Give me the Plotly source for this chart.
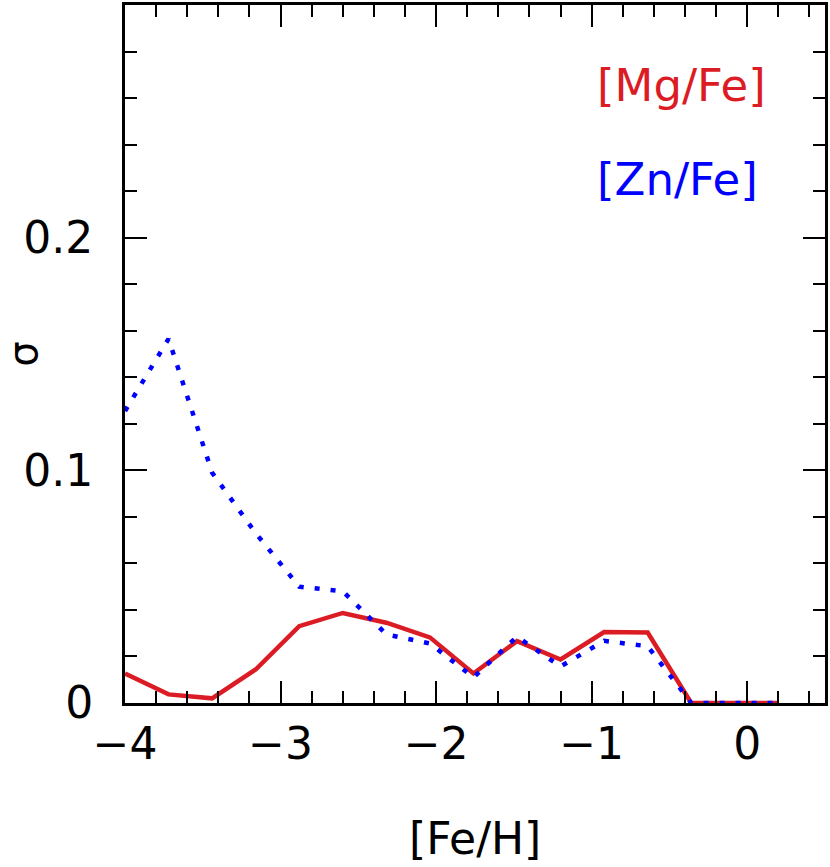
import plotly.graph_objects as go

# [Fe/H] bin centres
feh = [-4.00, -3.72, -3.44, -3.16, -2.88, -2.60, -2.32, -2.04,
       -1.76, -1.48, -1.20, -0.92, -0.64, -0.36, -0.08, 0.20]
# dispersion sigma of [Mg/Fe]
sigma_mg = [0.0127, 0.0037, 0.0020, 0.0144, 0.0330, 0.0387, 0.0345, 0.0282,
            0.0127, 0.0266, 0.0187, 0.0305, 0.0303, 0.0, 0.0, 0.0]
# dispersion sigma of [Zn/Fe]
sigma_zn = [0.1255, 0.1565, 0.0990, 0.0730, 0.0500, 0.0480, 0.0295, 0.0256,
            0.0110, 0.0285, 0.0157, 0.0267, 0.0244, 0.0, 0.0, 0.0]

x_ticks = [-4, -3, -2, -1, 0]
y_ticks = [0, 0.1, 0.2]
y_tick_labels = ["0", "0.1", "0.2"]

RED = "#dc1c24"
BLUE = "#0000ff"
FONT = "DejaVu Sans"

fig = go.Figure()
fig.add_trace(go.Scatter(x=feh, y=sigma_mg, mode="lines",
                         line=dict(color=RED, width=4.5), showlegend=False))
fig.add_trace(go.Scatter(x=feh, y=sigma_zn, mode="lines",
                         line=dict(color=BLUE, width=4.5, dash="5px,11px"),
                         showlegend=False))

axis_common = dict(
    showgrid=False, zeroline=False, showline=True, linecolor="black",
    linewidth=3, mirror="allticks", ticks="inside", tickcolor="black",
    tickwidth=2, ticklen=22,
    tickfont=dict(family=FONT, size=44, color="black"),
)

fig.update_xaxes(range=[-4, 0.5], tickvals=x_ticks, ticklabelstandoff=0,
                 minor=dict(dtick=0.2, tick0=0, ticks="inside", ticklen=12,
                            tickwidth=2, tickcolor="black", showgrid=False),
                 **axis_common)
fig.update_yaxes(range=[0, 0.3], tickvals=y_ticks, ticktext=y_tick_labels,
                 ticklabelstandoff=20,
                 minor=dict(dtick=0.02, tick0=0, ticks="inside", ticklen=12,
                            tickwidth=2, tickcolor="black", showgrid=False),
                 **axis_common)

fig.add_annotation(text="[Fe/H]", xref="paper", yref="paper", x=0.5, y=-0.194,
                   xanchor="center", yanchor="middle", showarrow=False,
                   font=dict(family=FONT, size=44, color="black"))
fig.add_annotation(text="σ", xref="paper", yref="paper", x=-0.146, y=0.5,
                   xanchor="center", yanchor="middle", showarrow=False,
                   textangle=-90,
                   font=dict(family=FONT, size=40, color="black"))
fig.add_annotation(text="[Mg/Fe]", xref="paper", yref="paper", x=0.672, y=0.8845,
                   xanchor="left", yanchor="middle", showarrow=False,
                   font=dict(family=FONT, size=45, color=RED))
fig.add_annotation(text="[Zn/Fe]", xref="paper", yref="paper", x=0.672, y=0.7504,
                   xanchor="left", yanchor="middle", showarrow=False,
                   font=dict(family=FONT, size=45, color=BLUE))

fig.update_layout(
    width=830, height=867,
    margin=dict(l=125, r=3, t=2, b=164),
    plot_bgcolor="white", paper_bgcolor="white",
    font=dict(family=FONT),
)

fig.write_html("out.html",
               config={"displayModeBar": False},
               post_script="document.body.style.margin='0';"
                           "document.body.style.overflow='hidden';")
